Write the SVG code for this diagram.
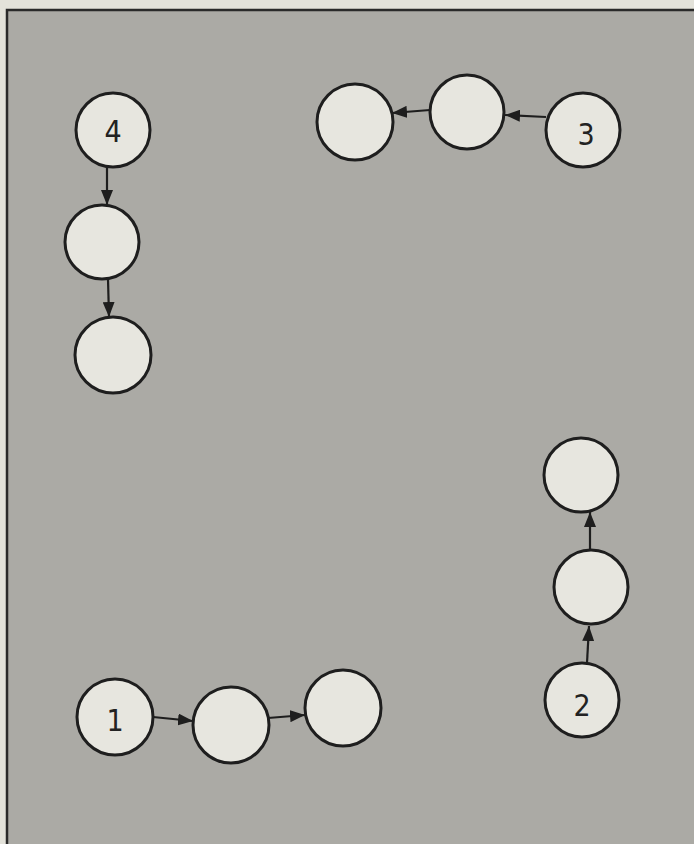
<svg xmlns="http://www.w3.org/2000/svg" width="694" height="844" viewBox="0 0 694 844">
<style>
.node circle{fill:#e7e6df;stroke:#1e1e1e;stroke-width:3}
.node text{font-family:"Liberation Sans Narrow","DejaVu Sans Condensed","Liberation Sans",sans-serif;font-size:30px;fill:#222;text-anchor:middle;dominant-baseline:central}
.edge{stroke:#1e1e1e;stroke-width:2.2;fill:none;marker-end:url(#ah)}
</style>
<defs>
<marker id="ah" viewBox="0 0 10 10" refX="10" refY="5" markerWidth="15" markerHeight="12" markerUnits="userSpaceOnUse" orient="auto" preserveAspectRatio="none">
<path d="M0,0 L10,5 L0,10 Z" fill="#1e1e1e"/>
</marker>
</defs>
<rect x="0" y="0" width="694" height="844" fill="#e3e2da"/>
<rect x="7" y="10" width="700" height="850" fill="#abaaa5" stroke="#2a2a2a" stroke-width="2.5"/>
<g id="connectors">
<line class="edge" x1="107" y1="167" x2="107" y2="205"/>
<line class="edge" x1="108" y1="279" x2="109" y2="317"/>
<line class="edge" x1="546" y1="117" x2="505" y2="115"/>
<line class="edge" x1="430" y1="110" x2="392" y2="113"/>
<line class="edge" x1="153" y1="717" x2="193" y2="721"/>
<line class="edge" x1="268" y1="718" x2="305" y2="715"/>
<line class="edge" x1="587" y1="663" x2="589" y2="626"/>
<line class="edge" x1="590" y1="550" x2="590" y2="512"/>
</g>
<g id="n4" class="node"><circle cx="113" cy="130" r="37"/><text x="113" y="131">4</text></g>
<g id="n4b" class="node"><circle cx="102" cy="242" r="37"/></g>
<g id="n4c" class="node"><circle cx="113" cy="355" r="38"/></g>
<g id="n3" class="node"><circle cx="583" cy="130" r="37"/><text x="586" y="134">3</text></g>
<g id="n3b" class="node"><circle cx="467" cy="112" r="37"/></g>
<g id="n3c" class="node"><circle cx="355" cy="122" r="38"/></g>
<g id="n1" class="node"><circle cx="115" cy="717" r="38"/><text x="115" y="720">1</text></g>
<g id="n1b" class="node"><circle cx="231" cy="725" r="38"/></g>
<g id="n1c" class="node"><circle cx="343" cy="708" r="38"/></g>
<g id="n2" class="node"><circle cx="582" cy="700" r="37"/><text x="582" y="705">2</text></g>
<g id="n2b" class="node"><circle cx="591" cy="587" r="37"/></g>
<g id="n2c" class="node"><circle cx="581" cy="475" r="37"/></g>
</svg>
